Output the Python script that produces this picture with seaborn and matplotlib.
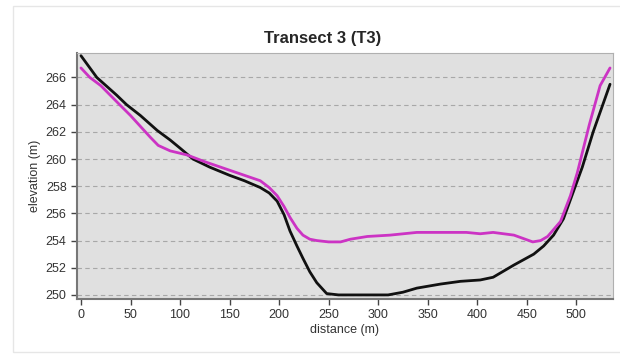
import pandas as pd
import matplotlib.pyplot as plt
import matplotlib.patches as mpatches
import seaborn as sns

# transect profile
dist_black = [0, 16, 36, 46, 60, 77, 90, 100, 113, 130, 150, 165, 181, 190, 198, 205, 211, 218, 224, 231,
              238, 248, 260, 285, 310, 325, 339, 363, 383, 403, 416, 437, 457, 467, 477, 487,
              497, 506, 517, 534]
elev_black = [267.6, 266.0, 264.7, 264.0, 263.2, 262.1, 261.4, 260.8, 260.0, 259.4, 258.8, 258.4, 257.9, 257.5, 256.9, 255.9, 254.7, 253.6, 252.7, 251.7,
              250.9, 250.1, 250.0, 250.0, 250.0, 250.2, 250.5, 250.8, 251.0, 251.1, 251.3, 252.2, 253.0, 253.6, 254.4, 255.6,
              257.6, 259.4, 262.0, 265.5]

dist_pink = [0, 9, 20, 39, 50, 60, 70, 78, 90, 107, 125, 153, 165, 181, 190, 198, 205, 211, 218, 224, 231,
             238, 250, 262, 272, 289, 312, 339, 365, 389, 403, 416, 437, 456, 464, 471, 484,
             494, 501, 513, 524, 534]
elev_pink = [266.7, 266.0, 265.4, 264.0, 263.2, 262.4, 261.6, 261.0, 260.6, 260.3, 259.8, 259.1, 258.8, 258.4, 257.9, 257.3, 256.5, 255.7, 254.9, 254.4, 254.1,
             254.0, 253.9, 253.9, 254.1, 254.3, 254.4, 254.6, 254.6, 254.6, 254.5, 254.6, 254.4, 253.9, 254.0, 254.3, 255.4,
             257.3, 259.0, 262.5, 265.4, 266.7]

y_ticks = [250, 252, 254, 256, 258, 260, 262, 264, 266]
x_ticks = [0, 50, 100, 150, 200, 250, 300, 350, 400, 450, 500]

df = pd.concat([
    pd.DataFrame({'distance': dist_black, 'elevation': elev_black, 'line': 'a'}),
    pd.DataFrame({'distance': dist_pink, 'elevation': elev_pink, 'line': 'b'}),
])

sns.set_style('ticks')
plt.rcParams['font.family'] = ['Liberation Sans', 'DejaVu Sans']

fig = plt.figure(figsize=(6.2, 3.55), dpi=100)
fig.patches.append(mpatches.Rectangle((13 / 620, 3 / 355), 1, 346 / 355, transform=fig.transFigure,
                                      fill=False, edgecolor='#e6e6e6', linewidth=1))
ax = fig.add_axes([77 / 620, 1 - 299 / 355, 536 / 620, 246 / 355])
ax.set_facecolor('#e0e0e0')

sns.lineplot(data=df, x='distance', y='elevation', hue='line', palette={'a': '#111111', 'b': '#cc33c4'},
             linewidth=2, legend=False, ax=ax, zorder=3)

ax.set_xlim(-4, 537)
ax.set_ylim(249.7, 267.8)
ax.set_xticks(x_ticks)
ax.set_yticks(y_ticks)
ax.grid(axis='y', linestyle=(0, (4, 3)), color='#a8a8a8', linewidth=0.8)
ax.tick_params(labelsize=9, colors='#444444', length=4, width=1, labelcolor='#333333')
for s in ['top', 'right']:
    ax.spines[s].set_color('#b0b0b0')
for s in ['left', 'bottom']:
    ax.spines[s].set_color('#777777')
    ax.spines[s].set_linewidth(1.5)

fig.text(323 / 620, 1 - 38 / 355, 'Transect 3 (T3)', fontsize=12, fontweight='bold', ha='center', va='center')
ax.set_xlabel('distance (m)', fontsize=9, color='#333333', labelpad=2)
ax.set_ylabel('elevation (m)', fontsize=9, color='#333333', labelpad=3)

fig.savefig('out.png', dpi=100)
